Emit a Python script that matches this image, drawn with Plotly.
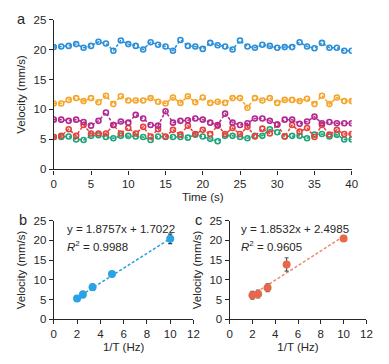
import plotly.graph_objects as go

# ---------------- data ----------------
time_s = list(range(41))
v_blue = [20.4, 20.5, 20.6, 20.9, 20.3, 20.6, 21.3, 21.0, 19.8, 21.5, 20.9, 20.6, 20.0, 21.2, 20.8,
          20.5, 19.8, 21.6, 20.6, 20.5, 20.1, 21.1, 20.7, 20.5, 20.0, 21.5, 20.5, 20.3, 20.8, 20.6,
          20.3, 20.4, 20.4, 21.2, 20.5, 20.2, 21.1, 20.3, 20.3, 19.8, 19.8]
v_orange = [11.0, 11.0, 11.6, 11.9, 11.4, 11.9, 11.2, 12.3, 10.9, 12.2, 11.5, 11.5, 11.5, 11.9, 11.3,
            11.0, 12.0, 11.1, 12.2, 11.2, 12.0, 11.1, 11.3, 11.1, 11.9, 11.9, 10.3, 11.9, 11.5, 11.9,
            11.1, 11.6, 11.6, 11.4, 11.8, 10.9, 12.3, 10.9, 12.0, 11.4, 11.4]
v_purple = [8.3, 8.3, 8.1, 8.3, 7.9, 7.3, 8.1, 9.5, 7.4, 8.0, 7.8, 9.1, 8.5, 7.4, 7.3,
            9.7, 7.8, 8.1, 8.2, 8.5, 8.3, 7.8, 7.4, 9.3, 7.8, 7.4, 7.7, 8.5, 8.5, 8.1,
            7.5, 8.3, 8.3, 7.6, 8.0, 8.8, 7.7, 7.9, 7.7, 7.7, 7.7]
v_red = [5.4, 5.6, 6.7, 5.6, 7.4, 6.0, 6.0, 6.0, 7.4, 6.0, 6.9, 6.0, 7.1, 5.5, 6.7,
         5.5, 6.6, 5.8, 7.3, 5.9, 6.6, 5.9, 7.3, 5.9, 6.9, 5.9, 7.1, 5.5, 6.8, 6.0,
         7.5, 5.5, 7.4, 6.3, 6.9, 5.4, 7.4, 5.8, 6.6, 5.9, 5.9]
v_green = [5.4, 5.4, 5.5, 5.0, 4.9, 5.6, 5.7, 5.4, 5.2, 5.6, 5.6, 5.5, 5.4, 4.9, 5.5,
           5.4, 5.4, 5.4, 5.3, 5.8, 5.5, 5.1, 4.7, 5.6, 5.6, 5.4, 5.2, 5.6, 5.6, 6.7,
           6.2, 5.5, 5.6, 5.6, 5.2, 5.8, 5.9, 5.5, 5.8, 5.0, 5.0]

freq_hz = [2.0, 2.5, 3.33, 5.0, 10.0]
vb_mean = [5.3, 6.3, 8.1, 11.5, 20.4]
vb_err = [0.4, 0.8, 0.8, 0.5, 1.2]
vc_mean = [6.1, 6.4, 8.0, 13.9, 20.5]
vc_err = [1.0, 1.0, 1.0, 1.7, 0.5]
fit_b = (1.8757, 1.7022)
fit_c = (1.8532, 2.4985)
fit_x = [2.0, 10.0]

# ---------------- figure ----------------
FONT = "Liberation Sans, Arial, sans-serif"
TXT = "#262626"
FS_TICK = 11.5
FS_TITLE = 11.5
FS_ANN = 11.5
fig = go.Figure()

series = [
    (v_green, "#1fa57a"),
    (v_red, "#e8413c"),
    (v_purple, "#b3288f"),
    (v_orange, "#f4a52a"),
    (v_blue, "#2b8fd8"),
]
for vals, col in series:
    fig.add_trace(go.Scatter(
        x=time_s, y=vals, mode="lines+markers",
        line=dict(color=col, width=1.5, dash="3px,2px"),
        marker=dict(symbol="circle-open", size=5, color=col, line=dict(width=1.6, color=col)),
        xaxis="x", yaxis="y", showlegend=False))

# panel b
fig.add_trace(go.Scatter(
    x=fit_x, y=[fit_b[0] * v + fit_b[1] for v in fit_x], mode="lines",
    line=dict(color="#2b9be0", width=1.5, dash="3px,2px"),
    xaxis="x2", yaxis="y2", showlegend=False))
fig.add_trace(go.Scatter(
    x=freq_hz, y=vb_mean, mode="markers",
    marker=dict(size=8, color="#2aa3e6"),
    error_y=dict(type="data", array=vb_err, color="#333333", thickness=1.2, width=2),
    xaxis="x2", yaxis="y2", showlegend=False))

# panel c
fig.add_trace(go.Scatter(
    x=fit_x, y=[fit_c[0] * v + fit_c[1] for v in fit_x], mode="lines",
    line=dict(color="#f0876a", width=1.5, dash="3px,2px"),
    xaxis="x3", yaxis="y3", showlegend=False))
fig.add_trace(go.Scatter(
    x=freq_hz, y=vc_mean, mode="markers",
    marker=dict(size=8, color="#e8674a"),
    error_y=dict(type="data", array=vc_err, color="#555555", thickness=1.2, width=2),
    xaxis="x3", yaxis="y3", showlegend=False))

W, H = 389, 364
def xd(a, b):
    return [a / W, b / W]
def yd(top, bot):
    return [1 - bot / H, 1 - top / H]

axis_common = dict(
    showline=True, linecolor=TXT, linewidth=1.2, ticks="outside", ticklen=4,
    tickcolor=TXT, tickwidth=1.2, showgrid=False, zeroline=False,
    tickfont=dict(family=FONT, size=FS_TICK, color=TXT),
    title_font=dict(family=FONT, size=FS_TITLE, color=TXT),
)

fig.update_layout(
    width=W, height=H, margin=dict(l=0, r=0, t=0, b=0),
    paper_bgcolor="white", plot_bgcolor="white",
    font=dict(family=FONT, color=TXT),
    xaxis=dict(domain=xd(52, 357), range=[0, 40], tickvals=list(range(0, 41, 5)),
               anchor="y", title=dict(text="Time (s)", standoff=3), **axis_common),
    yaxis=dict(domain=yd(14, 169), range=[0, 25], tickvals=list(range(0, 26, 5)),
               anchor="x", title=dict(text="Velocity (mm/s)", standoff=5), **axis_common),
    xaxis2=dict(domain=xd(52, 195), range=[0, 12], tickvals=list(range(0, 13, 2)),
                anchor="y2", title=dict(text="1/T (Hz)", standoff=3), **axis_common),
    yaxis2=dict(domain=yd(222, 324), range=[0, 25], tickvals=list(range(0, 26, 5)),
                anchor="x2", title=dict(text="Velocity (mm/s)", standoff=5), **axis_common),
    xaxis3=dict(domain=xd(232, 372), range=[0, 12], tickvals=list(range(0, 13, 2)),
                anchor="y3", title=dict(text="1/T (Hz)", standoff=3), **axis_common),
    yaxis3=dict(domain=yd(222, 324), range=[0, 25], tickvals=list(range(0, 26, 5)),
                anchor="x3", title=dict(text="Velocity (mm/s)", standoff=5), **axis_common),
)

ann_font = dict(family=FONT, size=FS_ANN, color=TXT)
lab_font = dict(family=FONT, size=14.5, color=TXT)
fig.add_annotation(x=12 / W, y=1 - 13 / H, xref="paper", yref="paper", text="a",
                   showarrow=False, font=lab_font, xanchor="left", yanchor="middle")
fig.add_annotation(x=14 / W, y=1 - 221 / H, xref="paper", yref="paper", text="b",
                   showarrow=False, font=lab_font, xanchor="left", yanchor="middle")
fig.add_annotation(x=194 / W, y=1 - 221 / H, xref="paper", yref="paper", text="c",
                   showarrow=False, font=lab_font, xanchor="left", yanchor="middle")

fig.add_annotation(x=0.95, y=22.8, xref="x2", yref="y2", showarrow=False, xanchor="left",
                   text=f"y = {fit_b[0]}x + {fit_b[1]}", font=ann_font)
fig.add_annotation(x=0.95, y=18.5, xref="x2", yref="y2", showarrow=False, xanchor="left",
                   text="<i>R</i><sup>2</sup> = 0.9988", font=ann_font)
fig.add_annotation(x=0.85, y=22.8, xref="x3", yref="y3", showarrow=False, xanchor="left",
                   text=f"y = {fit_c[0]}x + {fit_c[1]}", font=ann_font)
fig.add_annotation(x=0.85, y=18.5, xref="x3", yref="y3", showarrow=False, xanchor="left",
                   text="<i>R</i><sup>2</sup> = 0.9605", font=ann_font)

fig.write_html(
    "out.html", config={"displayModeBar": False},
    post_script=("document.documentElement.style.margin='0';"
                 "document.documentElement.style.overflow='hidden';"
                 "document.body.style.margin='0';document.body.style.padding='0';"
                 "document.body.style.overflow='hidden';"))
